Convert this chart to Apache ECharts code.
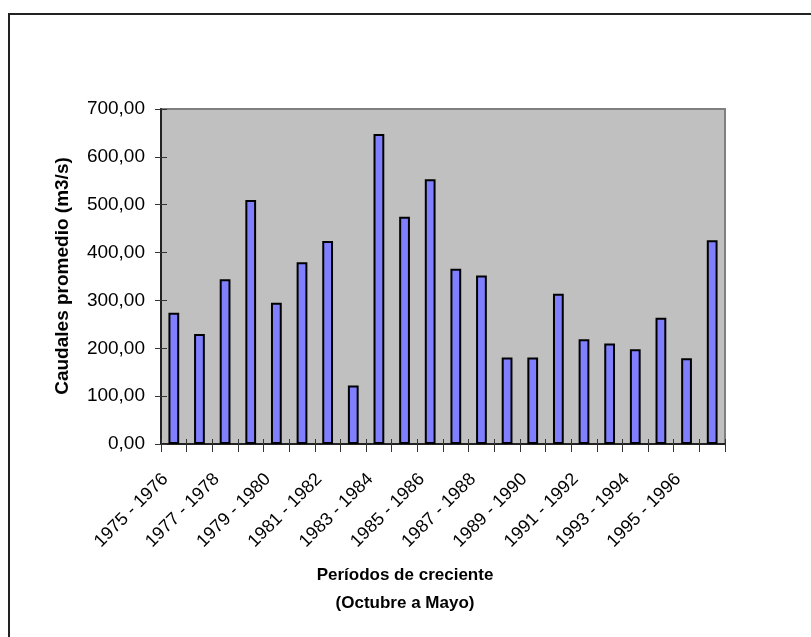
<!DOCTYPE html>
<html>
<head>
<meta charset="utf-8">
<script src="https://cdn.jsdelivr.net/npm/echarts@6/dist/echarts.min.js"></script>
<style>
  html, body { margin: 0; padding: 0; background: #ffffff; }
  #chart { width: 811px; height: 637px; }
</style>
</head>
<body>
<div id="chart"></div>
<script>
// Flood periods (October to May), one bar per hydrological year
const periodos = [
  '1975 - 1976', '1976 - 1977', '1977 - 1978', '1978 - 1979', '1979 - 1980',
  '1980 - 1981', '1981 - 1982', '1982 - 1983', '1983 - 1984', '1984 - 1985',
  '1985 - 1986', '1986 - 1987', '1987 - 1988', '1988 - 1989', '1989 - 1990',
  '1990 - 1991', '1991 - 1992', '1992 - 1993', '1993 - 1994', '1994 - 1995',
  '1995 - 1996', '1996 - 1997'
];

// Mean discharge for each period (m3/s)
const caudales = [
  274, 230, 344, 510, 295, 380, 424, 122, 648, 475, 553,
  366, 352, 181, 181, 314, 219, 210, 198, 264, 179, 426
];

const yMin = 0, yMax = 700, yStep = 100;

const fontFamily = '"Liberation Sans", Arial, sans-serif';
const fmt = v => v.toFixed(2).replace('.', ',');

const chart = echarts.init(document.getElementById('chart'), null, { renderer: 'canvas' });

const gridBox = { left: 161, top: 109, right: 86, bottom: 193 };

chart.setOption({
  animation: false,
  backgroundColor: '#ffffff',
  textStyle: { fontFamily: fontFamily },
  grid: Object.assign({ show: true, backgroundColor: '#c0c0c0', borderColor: '#808080', borderWidth: 2 }, gridBox),
  xAxis: [{
    type: 'category',
    data: periodos,
    boundaryGap: true,
    axisLine: { lineStyle: { color: '#222', width: 2 } },
    axisTick: { show: true, inside: false, length: 8, interval: 0, lineStyle: { color: '#333', width: 1 } },
    axisLabel: {
      interval: 1, rotate: 45, margin: 24,
      padding: [0, 12, 0, 0],
      fontSize: 18, color: '#000', fontFamily: fontFamily
    }
  }, {
    // upper half of the crossing tick marks
    type: 'category',
    data: periodos,
    position: 'bottom',
    boundaryGap: true,
    axisLine: { show: false },
    axisTick: { show: true, inside: true, length: 5, interval: 0, lineStyle: { color: '#333', width: 1 } },
    axisLabel: { show: false }
  }],
  yAxis: [{
    type: 'value',
    min: yMin, max: yMax, interval: yStep,
    axisLine: { show: true, lineStyle: { color: '#222', width: 2 } },
    axisTick: { show: true, inside: false, length: 6, lineStyle: { color: '#333', width: 1 } },
    splitLine: { show: false },
    axisLabel: {
      margin: 16, fontSize: 19, color: '#000', fontFamily: fontFamily,
      formatter: fmt
    }
  }, {
    type: 'value',
    position: 'left',
    min: yMin, max: yMax, interval: yStep,
    axisLine: { show: false },
    axisTick: { show: true, inside: true, length: 6, lineStyle: { color: '#333', width: 1 } },
    splitLine: { show: false },
    axisLabel: { show: false }
  }],
  series: [{
    type: 'bar',
    data: caudales,
    xAxisIndex: 0,
    yAxisIndex: 0,
    barWidth: '42%',
    itemStyle: { color: '#8080ff', borderColor: '#000', borderWidth: 2 }
  }],
  graphic: [
    {
      type: 'rect',
      shape: { x: 9, y: 14, width: 900, height: 700 },
      style: { fill: null, stroke: '#222', lineWidth: 2 },
      silent: true
    },
    {
      type: 'text',
      x: 63, y: 276,
      rotation: Math.PI / 2,
      style: {
        text: 'Caudales promedio (m3/s)',
        font: 'bold 19px ' + fontFamily,
        fill: '#000',
        textAlign: 'center',
        textVerticalAlign: 'middle'
      }
    },
    {
      type: 'text',
      x: 405, y: 589,
      style: {
        text: 'Períodos de creciente\n(Octubre a Mayo)',
        font: 'bold 17px ' + fontFamily,
        fill: '#000',
        textAlign: 'center',
        textVerticalAlign: 'middle',
        lineHeight: 28
      }
    }
  ]
});
</script>
</body>
</html>
